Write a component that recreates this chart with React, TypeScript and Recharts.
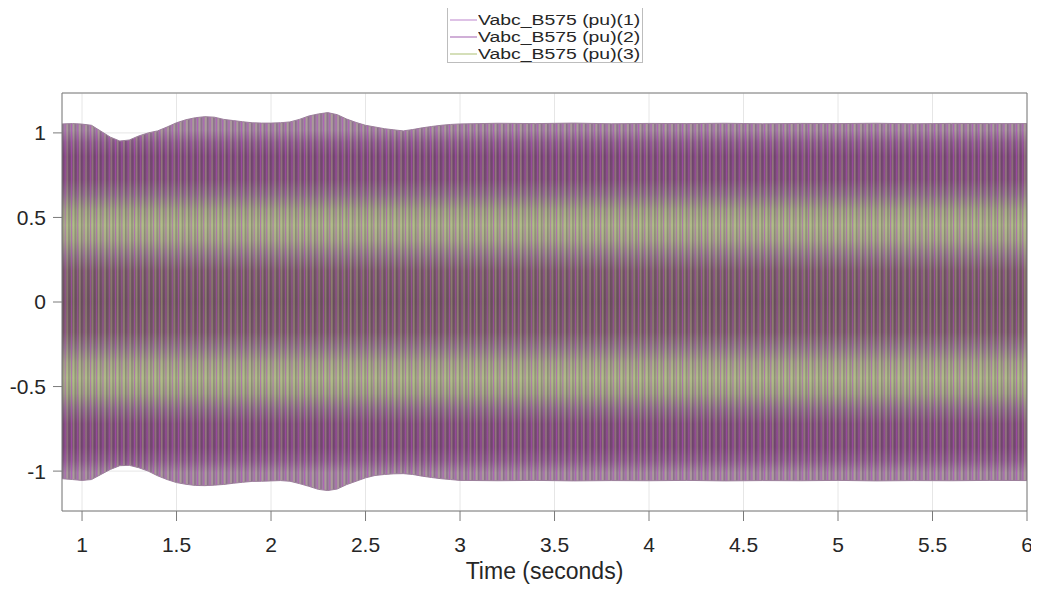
import React from 'react';
import {
  ComposedChart,
  Area,
  XAxis,
  YAxis,
  CartesianGrid,
  Label,
} from 'recharts';

const times = [
  0.894, 0.95, 1.0, 1.05, 1.1, 1.15, 1.2, 1.25, 1.3, 1.35, 1.4, 1.45, 1.5, 1.55,
  1.6, 1.65, 1.7, 1.75, 1.8, 1.85, 1.9, 1.95, 2.0, 2.05, 2.1, 2.15, 2.2, 2.25,
  2.3, 2.35, 2.4, 2.45, 2.5, 2.55, 2.6, 2.65, 2.7, 2.75, 2.8, 2.85, 2.9, 2.95,
  3.0, 3.2, 3.4, 3.6, 3.8, 4.0, 4.2, 4.4, 4.6, 4.8, 5.0, 5.2, 5.4, 5.6, 5.8, 6.0,
];

// upper envelope (pu)
const upper = [
  1.053, 1.055, 1.052, 1.045, 1.01, 0.975, 0.952, 0.958, 0.982, 1.0, 1.012, 1.035,
  1.06, 1.078, 1.09, 1.096, 1.093, 1.08, 1.073, 1.066, 1.06, 1.058, 1.058, 1.06,
  1.065, 1.08, 1.1, 1.112, 1.12, 1.108, 1.082, 1.062, 1.045, 1.035, 1.025, 1.018,
  1.012, 1.02, 1.03, 1.038, 1.045, 1.05, 1.053, 1.057, 1.055, 1.058, 1.054, 1.056,
  1.055, 1.057, 1.054, 1.056, 1.055, 1.057, 1.054, 1.056, 1.055, 1.055,
];

// lower envelope (pu)
const lower = [
  -1.045, -1.05, -1.055, -1.05, -1.02, -0.99, -0.968, -0.966, -0.98, -1.0, -1.028,
  -1.05, -1.068, -1.078, -1.085, -1.086, -1.083, -1.079, -1.072, -1.066, -1.061,
  -1.06, -1.058, -1.056, -1.06, -1.074, -1.09, -1.108, -1.115, -1.106, -1.08,
  -1.06, -1.04, -1.026, -1.02, -1.016, -1.015, -1.02, -1.03, -1.038, -1.045, -1.05,
  -1.055, -1.057, -1.055, -1.058, -1.056, -1.057, -1.055, -1.058, -1.056, -1.057,
  -1.055, -1.058, -1.056, -1.057, -1.055, -1.056,
];

const xTicks = [1, 1.5, 2, 2.5, 3, 3.5, 4, 4.5, 5, 5.5, 6];
const yTicks = [-1, -0.5, 0, 0.5, 1];
const legendNames = ['Vabc_B575 (pu)(1)', 'Vabc_B575 (pu)(2)', 'Vabc_B575 (pu)(3)'];
const legendColors = ['#c99ad6', '#b07abd', '#b9c98a'];

const YMAX = 1.236;
const FONT = '"Liberation Sans", Arial, Helvetica, sans-serif';

// colour zones of the dense band, by signal level
const zoneStops: [number, string][] = [
  [1.12, '#a284a3'],
  [1.04, '#8a5c8b'],
  [0.95, '#7c497a'],
  [0.8, '#7d4e79'],
  [0.7, '#8a6f85'],
  [0.6, '#9c9e84'],
  [0.5, '#a9b18a'],
  [0.4, '#a0a088'],
  [0.3, '#8c7883'],
  [0.2, '#795a6b'],
  [0, '#715363'],
];

const rows = times.map((t, i) => ({ t, band: [lower[i], upper[i]] }));

const off = (v: number) => `${((YMAX - v) / (2 * YMAX)) * 100}%`;

const allStops = [
  ...zoneStops,
  ...zoneStops
    .slice(0, -1)
    .reverse()
    .map(([v, c]) => [-v, c] as [number, string]),
];

function LegendBox() {
  return (
    <div
      style={{
        position: 'absolute',
        left: 439,
        top: -1,
        width: 194,
        height: 54,
        background: '#fff',
        border: '1px solid #bdbdbd',
        fontFamily: FONT,
        fontSize: 15.5,
        color: '#262626',
      }}
    >
      {legendNames.map((n, i) => (
        <div
          key={n}
          style={{
            position: 'absolute',
            left: 1,
            top: 2.5 + i * 17,
            height: 17,
            lineHeight: '17px',
            display: 'flex',
            alignItems: 'center',
            whiteSpace: 'nowrap',
          }}
        >
          <svg width={28} height={17}>
            <line x1={1} x2={28} y1={9} y2={9} stroke={legendColors[i]} strokeWidth={1.2} />
          </svg>
          <span
            style={{
              marginLeft: 1,
              display: 'inline-block',
              transform: 'scaleX(1.25)',
              transformOrigin: 'left center',
            }}
          >
            {n}
          </span>
        </div>
      ))}
    </div>
  );
}

export default function App() {
  return (
    <div style={{ position: 'relative', width: 1031, height: 584, fontFamily: FONT }}>
      <ComposedChart
        width={1031}
        height={584}
        data={rows}
        margin={{ top: 75, right: 0, bottom: 41, left: 0 }}
      >
        <defs>
          <linearGradient id="zones" x1="0" y1="0" x2="0" y2="1">
            {allStops.map(([v, c], i) => (
              <stop key={i} offset={off(v)} stopColor={c} />
            ))}
          </linearGradient>
          <pattern id="stripes" width={6.3} height={8} patternUnits="userSpaceOnUse">
            <line x1={0.5} x2={0.5} y1={0} y2={8} stroke="#b548c4" strokeWidth={0.9} opacity={0.6} />
            <line x1={2.6} x2={2.6} y1={0} y2={8} stroke="#c8e47a" strokeWidth={0.8} opacity={0.55} />
            <line x1={4.4} x2={4.4} y1={0} y2={8} stroke="#45343f" strokeWidth={0.8} opacity={0.5} />
          </pattern>
        </defs>
        <CartesianGrid stroke="#e6e6e6" strokeWidth={1} />
        <XAxis
          dataKey="t"
          type="number"
          domain={[0.894, 6]}
          ticks={xTicks}
          allowDataOverflow
          height={40}
          tickSize={10}
          tickMargin={16}
          stroke="#7a7a7a"
          tick={{ fill: '#262626', fontSize: 21, fontFamily: FONT }}
        >
          <Label
            value="Time (seconds)"
            position="bottom"
            offset={12}
            style={{ fill: '#262626', fontSize: 23, fontFamily: FONT }}
          />
        </XAxis>
        <XAxis
          xAxisId="top"
          orientation="top"
          dataKey="t"
          type="number"
          domain={[0.894, 6]}
          ticks={xTicks}
          allowDataOverflow
          height={10}
          tickSize={10}
          tick={false}
          stroke="#7a7a7a"
        />
        <YAxis
          type="number"
          domain={[-YMAX, YMAX]}
          ticks={yTicks}
          allowDataOverflow
          width={54}
          tickSize={9}
          tickMargin={7}
          stroke="#7a7a7a"
          tick={{ fill: '#262626', fontSize: 21, fontFamily: FONT }}
        />
        <YAxis
          yAxisId="right"
          orientation="right"
          type="number"
          domain={[-YMAX, YMAX]}
          ticks={yTicks}
          allowDataOverflow
          width={12}
          tickSize={9}
          tick={false}
          stroke="#7a7a7a"
        />
        <Area
          type="linear"
          dataKey="band"
          fill="url(#zones)"
          fillOpacity={1}
          stroke="none"
          isAnimationActive={false}
        />
        <Area
          type="linear"
          dataKey="band"
          fill="url(#stripes)"
          fillOpacity={1}
          stroke="#9c7f9b"
          strokeWidth={1}
          isAnimationActive={false}
        />
      </ComposedChart>
      <LegendBox />
    </div>
  );
}
